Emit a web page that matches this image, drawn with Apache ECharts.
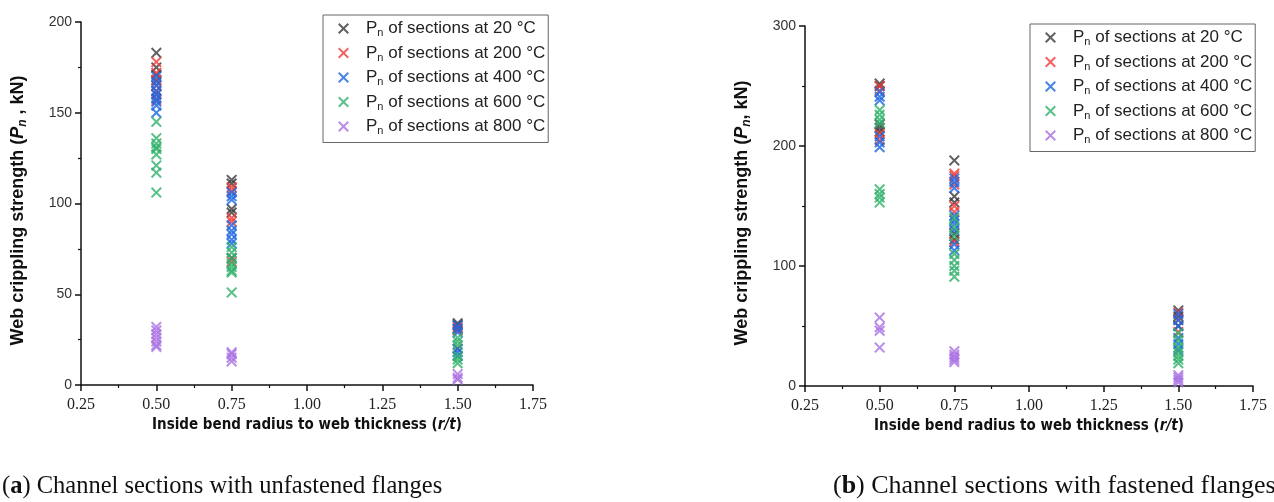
<!DOCTYPE html>
<html>
<head>
<meta charset="utf-8">
<script src="https://cdn.jsdelivr.net/npm/echarts@6/dist/echarts.min.js"></script>
<style>
html, body { margin: 0; padding: 0; background: #fff; }
#main { width: 1274px; height: 502px; }
</style>
</head>
<body>
<div id="main"></div>
<script>
// r/t positions of the tested sections
const xPositions = [0.5, 0.75, 1.5]
const temps = ['20', '200', '400', '600', '800']
const colors = ['#3a3a3a', '#f03a3a', '#1c66e0', '#30b06a', '#a970e2']

// (a) unfastened flanges, values grouped by x position
const a20 = [[183, 175, 171, 168], [113, 111, 97, 95, 70], [34, 33, 31]]
const a200 = [[178, 172, 168, 165, 162, 160, 157], [109, 107, 92, 90, 68], [32, 30, 20]]
const a400 = [[170, 167, 165, 162, 160, 158, 156, 154, 150], [106, 104, 102, 88, 85, 83, 80, 78], [33, 31, 29, 20, 18, 16]]
const a600 = [[145, 136, 133, 131, 130, 127, 121, 117, 106], [76, 73, 70, 67, 65, 63, 62, 51], [26, 24, 22, 16, 14, 12]]
const a800 = [[32, 30, 28, 26, 24, 22, 21], [18, 17, 15, 13], [6, 4, 3]]

// (b) fastened flanges
const b20 = [[252, 250, 218, 215, 212], [188, 158, 153, 127, 122], [63, 58, 50]]
const b200 = [[250, 246, 210, 205], [177, 175, 168, 150, 145, 120], [61, 55, 45]]
const b400 = [[245, 241, 238, 208, 203, 199], [173, 170, 165, 142, 138, 135, 130, 118, 113], [60, 55, 50, 40, 35, 30]]
const b600 = [[230, 226, 222, 219, 164, 160, 157, 153], [140, 132, 125, 110, 105, 100, 96, 91], [44, 38, 32, 28, 25, 22, 19]]
const b800 = [[57, 49, 46, 32], [29, 26, 24, 22, 20], [9, 7, 5, 3]]

const crossIcon = 'path://M0,1.3L1.3,0L5,3.7L8.7,0L10,1.3L6.3,5L10,8.7L8.7,10L5,6.3L1.3,10L0,8.7L3.7,5Z'

function toPoints (cols) {
  const out = []
  cols.forEach((vals, i) => {
    vals.forEach(v => out.push([xPositions[i], v]))
  })
  return out
}

const names = temps.map(t => 'Pn of sections at ' + t + ' °C')
const panelA = [a20, a200, a400, a600, a800]
const panelB = [b20, b200, b400, b600, b800]

const series = []
panelA.forEach((cols, i) => {
  series.push({
    name: names[i], type: 'scatter', xAxisIndex: 0, yAxisIndex: 0,
    symbol: crossIcon, symbolSize: 11,
    itemStyle: { color: colors[i] }, data: toPoints(cols)
  })
})
panelB.forEach((cols, i) => {
  series.push({
    name: names[i], type: 'scatter', xAxisIndex: 1, yAxisIndex: 1,
    symbol: crossIcon, symbolSize: 11,
    itemStyle: { color: colors[i] }, data: toPoints(cols)
  })
})

const sans = '"Liberation Sans", Arial, sans-serif'
const narrow = '"Liberation Sans Narrow", "DejaVu Sans Condensed", "Liberation Sans", sans-serif'
const serif = '"Liberation Serif", "DejaVu Serif", serif'

function legendOpt (left, top) {
  return {
    orient: 'vertical', left: left, top: top,
    data: names, icon: crossIcon, itemWidth: 11, itemHeight: 11, itemGap: 6,
    padding: [5, 3, 6, 15], borderColor: '#666', borderWidth: 1,
    formatter: name => '{p|P}{s|n}{p|' + name.slice(2) + '}',
    textStyle: {
      color: '#222', fontFamily: sans, fontSize: 17, padding: [0, 0, 0, 12],
      rich: {
        p: { fontFamily: sans, fontSize: 17, lineHeight: 20, color: '#222' },
        s: { fontFamily: sans, fontSize: 11, lineHeight: 11, verticalAlign: 'bottom', color: '#222' }
      }
    }
  }
}

function xAxisOpt (grid) {
  return {
    type: 'value', gridIndex: grid, min: 0.25, max: 1.75, interval: 0.25,
    name: '{b|Inside bend radius to web thickness (}{i|r/t}{b|)}',
    nameLocation: 'middle', nameGap: 21,
    nameTextStyle: {
      rich: {
        b: { fontFamily: narrow, fontWeight: 'bold', fontSize: 15, color: '#111' },
        i: { fontFamily: narrow, fontWeight: 'bold', fontStyle: 'italic', fontSize: 15, color: '#111' }
      }
    },
    axisLine: { onZero: false, lineStyle: { color: '#111', width: 1.5 } },
    axisTick: { inside: false, length: 6, lineStyle: { color: '#111', width: 1.5 } },
    minorTick: { show: true, splitNumber: 2, length: 3, lineStyle: { color: '#111', width: 1.2 } },
    axisLabel: {
      fontFamily: serif, fontSize: 16, color: '#222', margin: 12,
      formatter: v => v.toFixed(2)
    },
    splitLine: { show: false }
  }
}

function yAxisOpt (grid, max, interval, nameText) {
  return {
    type: 'value', gridIndex: grid, min: 0, max: max, interval: interval,
    name: nameText, nameLocation: 'middle', nameGap: 52, nameRotate: 90,
    nameTextStyle: {
      padding: [0, 14, 0, 0],
      rich: {
        b: { fontFamily: sans, fontWeight: 'bold', fontSize: 18, color: '#111', lineHeight: 22 },
        p: { fontFamily: sans, fontWeight: 'bold', fontStyle: 'italic', fontSize: 18, color: '#111', lineHeight: 22 },
        s: { fontFamily: sans, fontWeight: 'bold', fontStyle: 'italic', fontSize: 12, color: '#111', lineHeight: 12, verticalAlign: 'bottom' }
      }
    },
    axisLine: { show: true, lineStyle: { color: '#111', width: 1.5 } },
    axisTick: { show: true, length: 6, lineStyle: { color: '#111', width: 1.5 } },
    minorTick: { show: true, splitNumber: 2, length: 3, lineStyle: { color: '#111', width: 1.2 } },
    axisLabel: { fontFamily: sans, fontSize: 14, color: '#333', margin: 9 },
    splitLine: { show: false }
  }
}

function captionRich (size) {
  return {
    r: { fontFamily: serif, fontSize: size, fontWeight: 'normal', color: '#111' },
    a: { fontFamily: serif, fontSize: size, fontWeight: 'bold', color: '#111' }
  }
}

const chart = echarts.init(document.getElementById('main'), null, { renderer: 'canvas' })
chart.setOption({
  backgroundColor: '#fff',
  animation: false,
  title: [
    {
      left: 2, top: 474, padding: 0,
      text: '{r|(}{a|a}{r|) Channel sections with unfastened flanges}',
      textStyle: { fontWeight: 'normal', rich: captionRich(24.5) }
    },
    {
      left: 833, top: 473, padding: 0,
      text: '{r|(}{a|b}{r|) Channel sections with fastened flanges}',
      textStyle: { fontWeight: 'normal', rich: captionRich(26) }
    }
  ],
  legend: [legendOpt(323, 15), legendOpt(1030, 24)],
  grid: [
    { left: 81, top: 22, width: 452, height: 363 },
    { left: 805, top: 26, width: 448, height: 360 }
  ],
  xAxis: [xAxisOpt(0), xAxisOpt(1)],
  yAxis: [
    yAxisOpt(0, 200, 50, '{b|Web crippling strength (}{p|P}{s|n}{b| , kN)}'),
    yAxisOpt(1, 300, 100, '{b|Web crippling strength (}{p|P}{s|n}{b|, kN)}')
  ],
  series: series
})
</script>
</body>
</html>
